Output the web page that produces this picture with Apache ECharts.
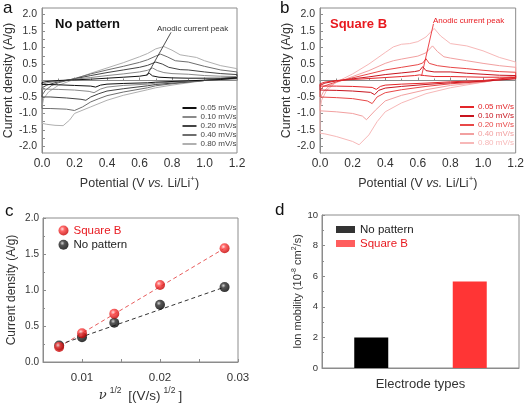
<!DOCTYPE html>
<html><head><meta charset="utf-8">
<script src="https://cdn.jsdelivr.net/npm/echarts@6/dist/echarts.min.js"></script>
<style>html,body{margin:0;padding:0;background:#fff}#c{width:527px;height:404px}</style>
</head><body><div id="c"></div><script>
// ---------- DATA ----------
const scanRates = ['0.05 mV/s','0.10 mV/s','0.20 mV/s','0.40 mV/s','0.80 mV/s'];
const cvTicksY = [-2.0,-1.5,-1.0,-0.5,0.0,0.5,1.0,1.5,2.0];
const cvMinorY = [-2.0,-1.75,-1.5,-1.25,-1.0,-0.75,-0.5,-0.25,0,0.25,0.5,0.75,1.0,1.25,1.5,1.75,2.0];
// Panel a: No pattern, CV loops [V, A/g]
const a005 = [[0,-0.06],[0.03,-0.03],[0.1,0.0],[0.2,0.02],[0.3,0.04],[0.4,0.07],[0.5,0.1],[0.6,0.13],[0.64,0.16],[0.66,0.22],[0.68,0.14],[0.72,0.1],[0.8,0.08],[0.9,0.07],[1.0,0.07],[1.1,0.07],[1.2,0.08],
  [1.2,0.04],[1.1,0.03],[1.0,0.01],[0.9,-0.01],[0.8,-0.03],[0.7,-0.05],[0.65,-0.07],[0.5,-0.09],[0.4,-0.11],[0.36,-0.14],[0.33,-0.2],[0.3,-0.17],[0.2,-0.15],[0.1,-0.13],[0.03,-0.12],[0,-0.12],[0,-0.06]];
const a010 = [[0,-0.12],[0.03,-0.07],[0.1,-0.02],[0.2,0.04],[0.3,0.09],[0.4,0.15],[0.5,0.2],[0.6,0.26],[0.65,0.31],[0.68,0.38],[0.71,0.3],[0.75,0.24],[0.8,0.21],[0.9,0.19],[1.0,0.15],[1.1,0.13],[1.2,0.12],
  [1.2,0.05],[1.0,0.0],[0.8,-0.05],[0.7,-0.08],[0.65,-0.11],[0.5,-0.15],[0.4,-0.2],[0.36,-0.26],[0.32,-0.37],[0.29,-0.33],[0.2,-0.29],[0.1,-0.27],[0,-0.26],[0,-0.12]];
const a020 = [[0,-0.22],[0.03,-0.14],[0.1,-0.04],[0.2,0.05],[0.3,0.15],[0.4,0.24],[0.5,0.32],[0.6,0.4],[0.65,0.46],[0.7,0.56],[0.74,0.5],[0.78,0.4],[0.85,0.33],[0.9,0.32],[1.0,0.26],[1.1,0.21],[1.2,0.18],
  [1.2,0.07],[1.0,0.0],[0.8,-0.08],[0.7,-0.12],[0.65,-0.16],[0.5,-0.25],[0.4,-0.32],[0.35,-0.4],[0.3,-0.5],[0.27,-0.6],[0.24,-0.57],[0.15,-0.53],[0.05,-0.5],[0,-0.5],[0,-0.22]];
const a040 = [[0,-0.45],[0.02,-0.3],[0.06,-0.15],[0.1,-0.07],[0.2,0.06],[0.3,0.2],[0.4,0.32],[0.5,0.43],[0.6,0.55],[0.65,0.63],[0.7,0.74],[0.73,0.8],[0.77,0.72],[0.82,0.6],[0.9,0.56],[1.0,0.43],[1.1,0.32],[1.2,0.26],
  [1.2,0.1],[1.0,0.0],[0.8,-0.1],[0.7,-0.16],[0.65,-0.22],[0.5,-0.35],[0.4,-0.46],[0.35,-0.55],[0.3,-0.65],[0.25,-0.8],[0.2,-0.91],[0.15,-0.87],[0.05,-0.85],[0,-0.85],[0,-0.45]];
const a080 = [[0,-0.8],[0.01,-0.55],[0.04,-0.35],[0.1,-0.15],[0.2,0.04],[0.3,0.22],[0.4,0.38],[0.5,0.54],[0.6,0.72],[0.65,0.82],[0.7,0.96],[0.75,1.03],[0.8,0.92],[0.85,0.78],[0.9,0.74],[0.95,0.7],[1.0,0.6],[1.1,0.45],[1.2,0.36],
  [1.2,0.12],[1.0,0.0],[0.8,-0.14],[0.7,-0.22],[0.65,-0.28],[0.5,-0.45],[0.4,-0.6],[0.3,-0.8],[0.2,-1.0],[0.17,-1.2],[0.13,-1.37],[0.08,-1.36],[0.03,-1.33],[0,-1.3],[0,-0.8]];
// Panel b: Square B, CV loops [V, A/g]
const b005 = [[0,-0.1],[0.03,-0.05],[0.1,0.0],[0.2,0.03],[0.3,0.06],[0.4,0.09],[0.5,0.12],[0.58,0.15],[0.61,0.17],[0.62,0.23],[0.64,0.15],[0.7,0.12],[0.8,0.12],[0.9,0.11],[1.0,0.1],[1.1,0.1],[1.2,0.1],
  [1.2,0.04],[1.0,0.0],[0.8,-0.04],[0.65,-0.08],[0.5,-0.11],[0.4,-0.14],[0.37,-0.18],[0.345,-0.27],[0.32,-0.21],[0.2,-0.18],[0.1,-0.17],[0,-0.17],[0,-0.1]];
const b010 = [[0,-0.15],[0.03,-0.08],[0.1,-0.01],[0.2,0.05],[0.3,0.11],[0.4,0.18],[0.5,0.23],[0.58,0.27],[0.61,0.3],[0.63,0.42],[0.65,0.3],[0.7,0.26],[0.8,0.26],[0.9,0.22],[1.0,0.19],[1.1,0.16],[1.2,0.15],
  [1.2,0.05],[1.0,-0.02],[0.8,-0.07],[0.65,-0.12],[0.5,-0.18],[0.4,-0.23],[0.36,-0.3],[0.335,-0.43],[0.31,-0.36],[0.2,-0.32],[0.1,-0.3],[0,-0.29],[0,-0.15]];
const b020 = [[0,-0.3],[0.02,-0.18],[0.1,-0.04],[0.2,0.08],[0.3,0.2],[0.4,0.32],[0.5,0.4],[0.6,0.48],[0.63,0.53],[0.65,0.66],[0.67,0.52],[0.72,0.45],[0.8,0.4],[0.9,0.36],[1.0,0.31],[1.1,0.27],[1.2,0.25],
  [1.2,0.07],[1.0,-0.03],[0.8,-0.1],[0.65,-0.18],[0.5,-0.28],[0.4,-0.37],[0.35,-0.5],[0.32,-0.7],[0.29,-0.62],[0.2,-0.55],[0.1,-0.52],[0,-0.5],[0,-0.3]];
const b040 = [[0,-0.55],[0.02,-0.35],[0.06,-0.15],[0.1,-0.06],[0.2,0.12],[0.3,0.3],[0.4,0.52],[0.45,0.6],[0.5,0.65],[0.6,0.74],[0.65,0.84],[0.69,1.05],[0.72,0.88],[0.76,0.72],[0.8,0.68],[0.9,0.6],[1.0,0.52],[1.1,0.45],[1.2,0.4],
  [1.2,0.1],[1.0,-0.05],[0.8,-0.15],[0.65,-0.28],[0.5,-0.45],[0.4,-0.62],[0.34,-0.9],[0.285,-1.19],[0.26,-1.08],[0.2,-1.0],[0.1,-0.95],[0,-0.92],[0,-0.55]];
const b080 = [[0,-0.9],[0.01,-0.6],[0.04,-0.3],[0.1,-0.05],[0.2,0.2],[0.3,0.5],[0.4,0.85],[0.45,1.02],[0.5,1.1],[0.55,1.12],[0.6,1.18],[0.65,1.32],[0.7,1.58],[0.74,1.35],[0.8,1.12],[0.9,1.05],[1.0,0.9],[1.1,0.7],[1.2,0.56],
  [1.2,0.15],[1.0,-0.05],[0.8,-0.22],[0.65,-0.4],[0.5,-0.68],[0.4,-0.95],[0.35,-1.25],[0.3,-1.65],[0.24,-1.95],[0.2,-1.85],[0.1,-1.7],[0.03,-1.62],[0,-1.6],[0,-0.9]];
// Anodic-peak arrows [V, A/g]
const arrowA = [[0.644,0.14],[0.794,1.46]];
const arrowB = [[0.623,0.14],[0.696,1.72]];
// Panel c: sqrt(scan rate) vs peak current
const sqrtRate = [0.00707,0.01,0.01414,0.02,0.02828];
const peakSquareB = [0.21,0.40,0.67,1.07,1.58];
const peakNoPattern = [0.23,0.345,0.545,0.795,1.04];
const fitSquareB = [[0.00707,0.21],[0.02828,1.58]];
const fitNoPattern = [[0.00707,0.24],[0.02828,1.04]];
const cTicksX = [0.01,0.02,0.03];
// Panel d: ion mobility
const electrodeTypes = ['No pattern','Square B'];
const mobilityNoPattern = [2.0, null];
const mobilitySquareB = [null, 5.65];

// ---------- STYLE ----------
const FONT = 'Liberation Sans, Arial, sans-serif';
const FRAME = '#8c8c8c';
const TXT = '#333';
const grayCols = ['#111111','#8a8a8a','#444444','#6e6e6e','#b0b0b0'];
const redCols = ['#e3262a','#c8141e','#e84848','#f2a0a0','#f7b8b8'];
const RED = '#e8191f';

function pair(xs, ys){ return xs.map((x,i)=>[x, ys[i]]); }

function baseAxis(extra){
  return Object.assign({
    axisLine:{show:true, lineStyle:{color:FRAME, width:1}},
    axisTick:{show:true, inside:true, length:3, lineStyle:{color:FRAME}},
    splitLine:{show:false},
    axisLabel:{color:TXT, fontFamily:FONT},
    nameTextStyle:{color:TXT, fontFamily:FONT}
  }, extra);
}
const supRich = {
  n:{fontSize:12.5, color:TXT, fontFamily:FONT},
  i:{fontSize:12.5, color:TXT, fontFamily:FONT, fontStyle:'italic'},
  s:{fontSize:8, color:TXT, fontFamily:FONT, padding:[0,0,10,0]}
};

const cvA = [a005,a010,a020,a040,a080];
const cvB = [b005,b010,b020,b040,b080];
const series = [];
// panel c first (legend lookups)
series.push({name:'Square B', type:'scatter', xAxisIndex:2, yAxisIndex:2, z:5, symbolSize:10,
  data: pair(sqrtRate, peakSquareB),
  itemStyle:{color:{type:'radial',x:0.38,y:0.35,r:0.65,colorStops:[{offset:0,color:'#ffd6d6'},{offset:0.35,color:'#ff4040'},{offset:1,color:'#c40000'}]}}});
series.push({name:'No pattern', type:'scatter', xAxisIndex:2, yAxisIndex:2, z:4, symbolSize:10,
  data: pair(sqrtRate, peakNoPattern),
  itemStyle:{color:{type:'radial',x:0.38,y:0.35,r:0.65,colorStops:[{offset:0,color:'#c8c8c8'},{offset:0.35,color:'#2a2a2a'},{offset:1,color:'#000'}]}}});
series.push({name:'fitSquareB', type:'line', xAxisIndex:2, yAxisIndex:2, z:3, symbol:'none', silent:true,
  data: fitSquareB, lineStyle:{color:'#e85a5a', width:1, type:[4,3]}});
series.push({name:'fitNoPattern', type:'line', xAxisIndex:2, yAxisIndex:2, z:3, symbol:'none', silent:true,
  data: fitNoPattern, lineStyle:{color:'#333', width:1, type:[4,3]}});
cvA.forEach((d,k)=>series.push({name:scanRates[k], type:'line', xAxisIndex:0, yAxisIndex:0, symbol:'none', data:d,
  lineStyle:{color:grayCols[k], width:1}, itemStyle:{color:grayCols[k]}, z:10-k}));
cvB.forEach((d,k)=>series.push({name:scanRates[k], type:'line', xAxisIndex:1, yAxisIndex:1, symbol:'none', data:d,
  lineStyle:{color:redCols[k], width:1}, itemStyle:{color:redCols[k]}, z:10-k}));
series.push({name:'arrowA', type:'line', xAxisIndex:0, yAxisIndex:0, symbol:'none', data:arrowA, lineStyle:{color:'#222', width:0.8}, z:12});
series.push({name:'arrowB', type:'line', xAxisIndex:1, yAxisIndex:1, symbol:'none', data:arrowB, lineStyle:{color:RED, width:0.8}, z:12});
series.push({name:'No pattern', type:'bar', xAxisIndex:3, yAxisIndex:3, data:mobilityNoPattern, barWidth:34, barGap:'-100%', itemStyle:{color:'#000'}});
series.push({name:'Square B', type:'bar', xAxisIndex:3, yAxisIndex:3, data:mobilitySquareB, barWidth:34, barGap:'-100%', itemStyle:{color:'#ff3535'}});

const cvYAxis = (gi)=>baseAxis({type:'value', gridIndex:gi, min:-2.2, max:2.2,
  axisLabel:{color:TXT, fontFamily:FONT, fontSize:10.5, margin:5, customValues:cvTicksY, formatter:v=>v.toFixed(1)},
  axisTick:{show:true, inside:true, length:3, lineStyle:{color:FRAME}, customValues:cvMinorY},
  name:'Current density (A/g)', nameLocation:'middle', nameGap:gi===0?23:25,
  nameTextStyle:{color:TXT, fontFamily:FONT, fontSize:12.5}});
const cvXAxis = (gi)=>baseAxis({type:'value', gridIndex:gi, min:0, max:1.2, interval:0.2,
  axisLabel:{color:TXT, fontFamily:FONT, fontSize:12, margin:5, formatter:v=>v.toFixed(1)},
  minorTick:{show:true, splitNumber:2, length:2, lineStyle:{color:FRAME}},
  name:'{n|Potential (V }{i|vs.}{n| Li/Li}{s|+}{n|)}', nameLocation:'middle', nameGap:22,
  nameTextStyle:{rich:supRich}});

const legendCommon = {orient:'vertical', itemWidth:14, itemHeight:2, itemGap:0, icon:'rect', selectedMode:false, padding:0,
  textStyle:{fontSize:8, lineHeight:9, color:'#444', fontFamily:FONT, padding:[0,0,0,-1]}};

const option = {
  animation:false,
  backgroundColor:'#fff',
  grid:[
    {left:42, top:8, width:195, height:145, show:true, borderColor:FRAME, borderWidth:1},
    {left:320, top:8, width:197, height:145, show:true, borderColor:FRAME, borderWidth:1},
    {left:43, top:218, width:195, height:146, show:true, borderColor:FRAME, borderWidth:1},
    {left:322, top:215, width:197, height:153, show:true, borderColor:FRAME, borderWidth:1}
  ],
  xAxis:[
    cvXAxis(0), cvXAxis(1),
    baseAxis({type:'value', gridIndex:2, min:0.005, max:0.03, interval:0.005,
      axisLabel:{color:TXT, fontFamily:FONT, fontSize:11.5, margin:10, customValues:cTicksX, formatter:v=>v.toFixed(2)},
      name:'{i|ν}{s|1/2}{n| [(V/s)}{s|1/2}{n|]}', nameLocation:'middle', nameGap:24,
      nameTextStyle:{rich:{i:{fontSize:13, color:TXT, fontFamily:'DejaVu Serif, serif', fontStyle:'italic'},
        n:{fontSize:13.5, color:TXT, fontFamily:FONT}, s:{fontSize:8.5, color:TXT, fontFamily:FONT, padding:[0,3,11,3]}}}}),
    baseAxis({type:'category', gridIndex:3, data:electrodeTypes, axisLabel:{show:false}, axisTick:{show:false},
      name:'Electrode types', nameLocation:'middle', nameGap:10, nameTextStyle:{color:TXT, fontFamily:FONT, fontSize:13}})
  ],
  yAxis:[
    cvYAxis(0), cvYAxis(1),
    baseAxis({type:'value', gridIndex:2, min:0, max:2, interval:0.5,
      axisLabel:{color:TXT, fontFamily:FONT, fontSize:10, margin:4, formatter:v=>v.toFixed(1)},
      minorTick:{show:true, splitNumber:2, length:2, lineStyle:{color:FRAME}},
      name:'Current density (A/g)', nameLocation:'middle', nameGap:25, nameTextStyle:{color:TXT, fontFamily:FONT, fontSize:12}}),
    baseAxis({type:'value', gridIndex:3, min:0, max:10, interval:2,
      axisLabel:{color:TXT, fontFamily:FONT, fontSize:9.5, margin:4},
      minorTick:{show:true, splitNumber:2, length:2, lineStyle:{color:FRAME}},
      name:'{n|Ion mobility (10}{s|-8}{n| cm}{s|2}{n|/s)}', nameLocation:'middle', nameGap:16,
      nameTextStyle:{rich:{n:{fontSize:11, color:TXT, fontFamily:FONT}, s:{fontSize:7, color:TXT, fontFamily:FONT, padding:[0,0,8,0]}}}})
  ],
  legend:[
    Object.assign({}, legendCommon, {left:182.5, top:103.5, data:scanRates}),
    Object.assign({}, legendCommon, {left:460, top:102.5,
      data: scanRates.map((n,k)=>({name:n, itemStyle:{color:redCols[k]}, textStyle:{color:redCols[k]}}))}),
    {orient:'vertical', left:58.5, top:224.5, padding:0, itemWidth:10, itemHeight:10, itemGap:2.2, selectedMode:false, icon:'circle',
      textStyle:{fontSize:11.5, fontFamily:FONT, color:'#222'},
      data:[{name:'Square B', textStyle:{color:RED}}, {name:'No pattern', textStyle:{color:'#222'}}]},
    {orient:'vertical', left:336, top:223.5, padding:0, itemWidth:19, itemHeight:7, itemGap:2, selectedMode:false, icon:'rect',
      textStyle:{fontSize:11.5, fontFamily:FONT, color:'#222'},
      data:[{name:'No pattern', icon:'rect', itemStyle:{color:'#000'}, textStyle:{color:'#222'}},
            {name:'Square B', icon:'rect', itemStyle:{color:'#ff3535'}, textStyle:{color:RED}}]}
  ],
  graphic:[
    {type:'text', left:3, top:0, style:{text:'a', fontSize:17, fontFamily:FONT, fill:'#111'}},
    {type:'text', left:280, top:0, style:{text:'b', fontSize:17, fontFamily:FONT, fill:'#111'}},
    {type:'text', left:5, top:203, style:{text:'c', fontSize:17, fontFamily:FONT, fill:'#111'}},
    {type:'text', left:275, top:202, style:{text:'d', fontSize:17, fontFamily:FONT, fill:'#111'}},
    {type:'text', left:55, top:18, style:{text:'No pattern', fontSize:13, fontWeight:'bold', fontFamily:FONT, fill:'#111'}},
    {type:'text', left:330, top:18, style:{text:'Square B', fontSize:13, fontWeight:'bold', fontFamily:FONT, fill:RED}},
    {type:'text', left:157, top:25, style:{text:'Anodic current peak', fontSize:8, fontFamily:FONT, fill:'#333'}},
    {type:'text', left:433, top:17, style:{text:'Anodic current peak', fontSize:8, fontFamily:FONT, fill:RED}}
  ],
  series
};
const chart = echarts.init(document.getElementById('c'));
chart.setOption(option);
</script></body></html>
